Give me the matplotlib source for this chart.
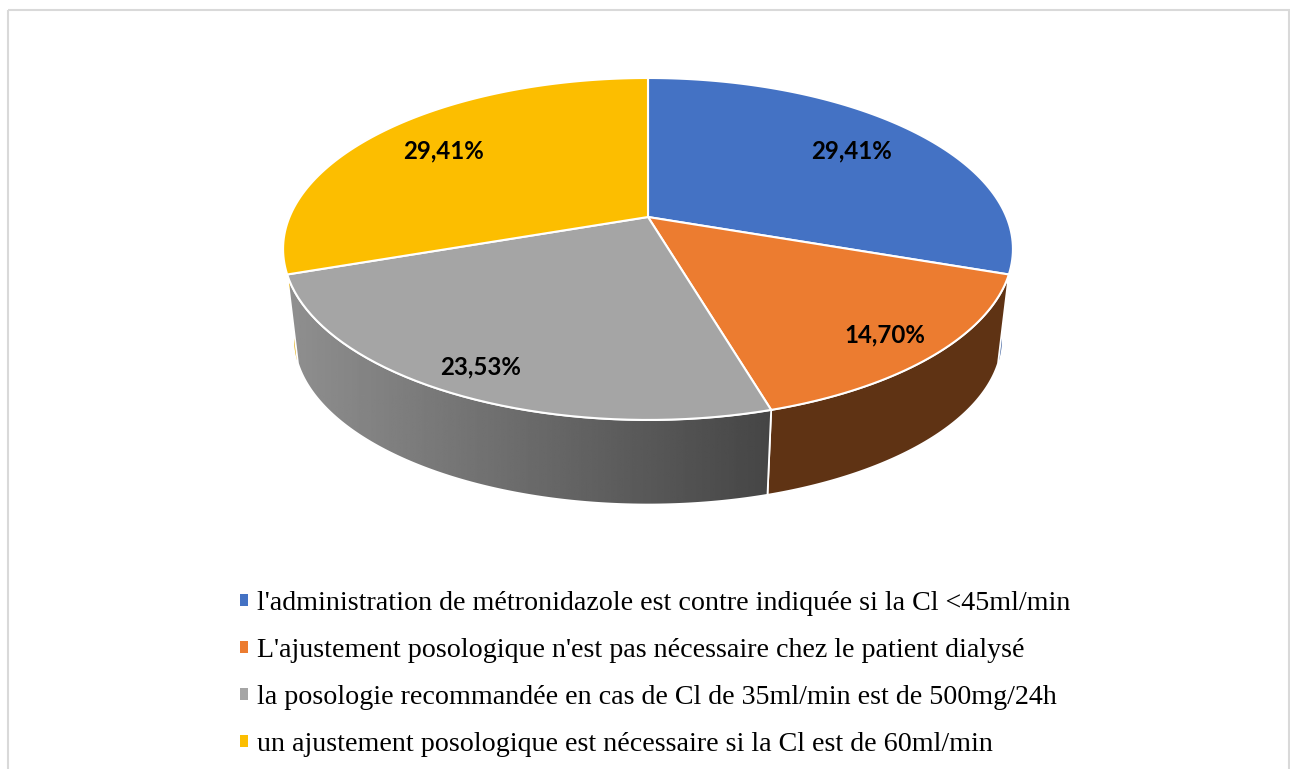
import numpy as np
import matplotlib
matplotlib.use("Agg")
import matplotlib.pyplot as plt
from matplotlib.patches import Rectangle, Polygon
from matplotlib.transforms import Transform
from matplotlib.path import Path

categories = [
    "l'administration de métronidazole est contre indiquée si la Cl <45ml/min",
    "L'ajustement posologique n'est pas nécessaire chez le patient dialysé",
    "la posologie recommandée en cas de Cl de 35ml/min est de 500mg/24h",
    "un ajustement posologique est nécessaire si la Cl est de 60ml/min",
]
values = [29.41, 14.70, 23.53, 29.41]
colors = ["#4472C4", "#EC7C30", "#A5A5A5", "#FCBE00"]
side_colors = ["#2F5597", "#5F3314", "#6E6E6E", "#E0A800"]
label_xy = [(851, 151), (885, 335), (481, 367), (443, 151)]

W, H = 1290, 769
CX, CY, A, B, K = 648.0, 217.0, 358.5, 165.0, 0.187
VP_Y, S = 3240.0, 0.97


def project(xy):
    xy = np.asarray(xy, dtype=float)
    w = 1 + K * xy[..., 1]
    return np.stack([CX + A * xy[..., 0] / w, CY - B * xy[..., 1] / w], axis=-1)


def drop(p):
    out = p.copy()
    out[..., 0] = CX + (p[..., 0] - CX) * S
    out[..., 1] = VP_Y + (p[..., 1] - VP_Y) * S
    return out


class Perspective(Transform):
    input_dims = output_dims = 2
    is_affine = False
    has_inverse = False

    def transform_non_affine(self, values):
        return project(values)

    def transform_path_non_affine(self, path):
        pts = []
        for curve, code in path.iter_bezier():
            if code == Path.MOVETO:
                pts.append(curve.control_points)
            else:
                pts.append(curve(np.linspace(0, 1, 24)))
        v = np.vstack(pts)
        return Path(np.vstack([project(v), project(v[:1])]), closed=True)


fig = plt.figure(figsize=(W / 100, H / 100), dpi=100, facecolor="white")
ax = fig.add_axes([0, 0, 1, 1])

# frame
ax.add_patch(Rectangle((7.5, 9.5), 1281, 800, fill=False, ec="#D9D9D9", lw=1.5, zorder=0))

fr = np.array(values) / np.sum(values)
edges = np.concatenate([[0], np.cumsum(fr)]) * 2 * np.pi


def side_poly(i):
    t = np.linspace(edges[i], edges[i + 1], 200)
    top = project(np.stack([np.sin(t), np.cos(t)], axis=-1))
    return np.vstack([top, drop(top)[::-1]])


# sides back to front
for i in [3, 0]:
    ax.add_patch(Polygon(side_poly(i), closed=True, fc=side_colors[i], ec="none", zorder=1))

ax.add_patch(Polygon(side_poly(1), closed=True, fc=side_colors[1], ec="#FFFFFF", lw=1.3, zorder=2))
gray_patch = Polygon(side_poly(2), closed=True, fc="none", ec="#FFFFFF", lw=1.3, zorder=3)
ax.add_patch(gray_patch)
grad = np.linspace(0.56, 0.27, 256)[None, :]
im = ax.imshow(grad, cmap="gray", vmin=0, vmax=1, extent=(290, 775, 520, 270),
               aspect="auto", zorder=2.5)
im.set_clip_path(gray_patch)

# top face
wedges, _ = ax.pie(values, colors=colors, startangle=90, counterclock=False, radius=1,
                   wedgeprops=dict(edgecolor="white", linewidth=1.5))
for w in wedges:
    w.set_transform(Perspective() + ax.transData)
    w.set_zorder(4)

for v, (x, y) in zip(values, label_xy):
    ax.text(x, y, f"{v:.2f}%".replace(".", ","), ha="center", va="center",
            family="Lato", weight="bold", fontsize=17.3, color="black", zorder=5)

handles = [Rectangle((0, 0), 1, 1, fc=c, ec="none") for c in colors]
leg = ax.legend(handles, categories, loc="upper left", bbox_to_anchor=(240 / W, 1 - 591 / H),
                frameon=False, prop=dict(family="Liberation Serif", size=20.15),
                handlelength=0.3, handleheight=0.3, handletextpad=0.32, labelspacing=0.783,
                borderpad=0, borderaxespad=0)

ax.set_xlim(0, W)
ax.set_ylim(H, 0)
ax.set_aspect("auto")
ax.axis("off")
fig.savefig("out.png", dpi=100)
